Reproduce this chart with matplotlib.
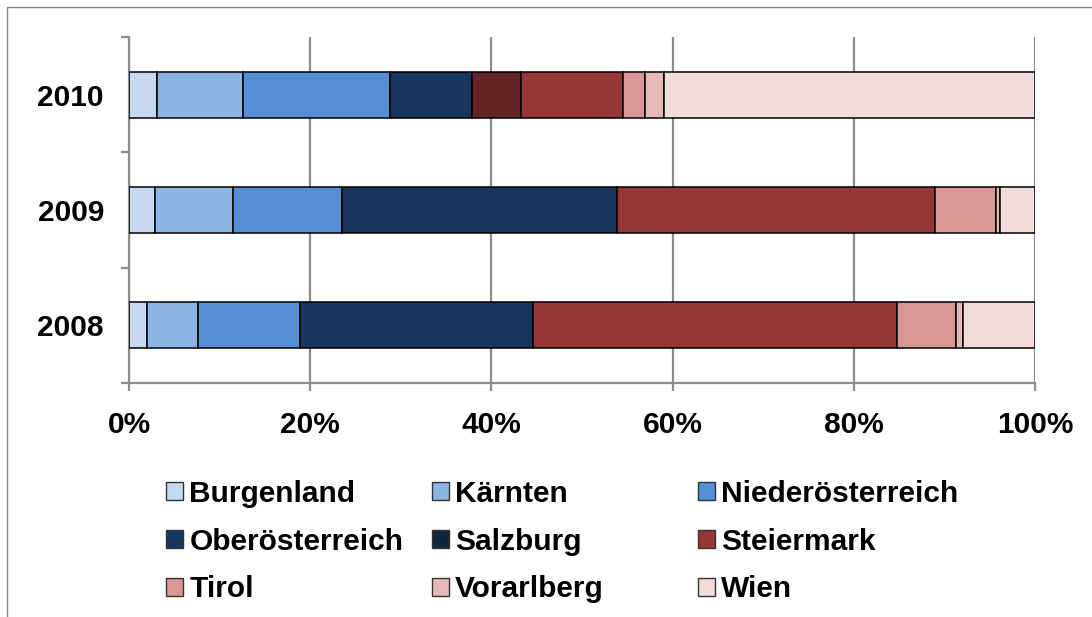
import numpy as np
import matplotlib
matplotlib.use("Agg")
import matplotlib.pyplot as plt
from matplotlib.patches import Patch, Rectangle

plt.rcParams['font.family'] = ['Liberation Sans', 'DejaVu Sans']
plt.rcParams['font.weight'] = 'bold'

jahre = ['2008', '2009', '2010']
laender = ['Burgenland', 'Kärnten', 'Niederösterreich', 'Oberösterreich', 'Salzburg',
           'Steiermark', 'Tirol', 'Vorarlberg', 'Wien']
farben = ['#C6D9F1', '#8DB4E2', '#558ED5', '#17375E', '#10253F',
          '#953735', '#D99694', '#E6B9B8', '#F2DCDB']

# Anteile in Prozent je Bundesland, Reihenfolge wie jahre
burgenland = [2.0, 2.9, 3.1]
kaernten = [5.6, 8.6, 9.5]
niederoe = [11.3, 12.0, 16.2]
oberoe = [25.7, 30.4, 9.1]
salzburg = [0.0, 0.0, 5.4]
steiermark = [40.2, 35.1, 11.2]
tirol = [6.5, 6.7, 2.5]
vorarlberg = [0.7, 0.4, 2.1]
wien = [8.0, 3.9, 40.9]

werte = np.array([burgenland, kaernten, niederoe, oberoe, salzburg,
                  steiermark, tirol, vorarlberg, wien])
werte = werte / werte.sum(axis=0) * 100

SCHRIFT = 21.5


def main():
    fig = plt.figure(figsize=(10.92, 6.17), dpi=100)
    ax = fig.add_axes([129/1092, 1 - 383/617, (1035 - 129)/1092, (383 - 37)/617])

    y = np.arange(len(jahre))
    links = np.zeros(len(jahre))
    balken = []
    for i in range(len(laender)):
        b = ax.barh(y, werte[i], left=links, height=0.4, color=farben[i],
                    edgecolor='black', linewidth=1.1, zorder=3)
        balken.append(b)
        links += werte[i]

    # Salzburg 2010 ist im Original dunkelrot eingefaerbt
    balken[4].patches[2].set_facecolor('#632523')

    ax.set_xlim(0, 100)
    ax.set_ylim(-0.5, 2.5)
    ax.set_xticks(np.arange(0, 101, 20))
    ax.set_xticklabels([f'{v}%' for v in range(0, 101, 20)], fontsize=SCHRIFT, fontweight='bold')
    ax.set_yticks(y)
    ax.set_yticklabels(jahre, fontsize=SCHRIFT, fontweight='bold')
    ax.set_yticks([-0.5, 0.5, 1.5, 2.5], minor=True)

    grau = '#8C8C8C'
    ax.xaxis.grid(True, color=grau, linewidth=1.6, zorder=0)
    ax.set_axisbelow(True)
    for s in ['top', 'right']:
        ax.spines[s].set_visible(False)
    for s in ['left', 'bottom']:
        ax.spines[s].set_color(grau)
        ax.spines[s].set_linewidth(1.6)
    ax.tick_params(axis='y', which='major', length=0, pad=18)
    ax.tick_params(axis='y', which='minor', length=6, width=1.6, color=grau)
    ax.tick_params(axis='x', length=6, width=1.6, color=grau, pad=14)

    griffe = [Patch(facecolor=farben[i], edgecolor='#333333', linewidth=1.0) for i in range(len(laender))]
    spalten_x = [166/1092, 432/1092, 698/1092]
    for k in range(3):
        fig.legend(griffe[k::3], laender[k::3], loc='upper left',
                   bbox_to_anchor=(spalten_x[k], 1 - 480/617),
                   frameon=False, ncol=1, prop={'size': SCHRIFT, 'weight': 'bold'},
                   handlelength=0.58, handleheight=0.55, handletextpad=0.2,
                   labelspacing=0.66, borderpad=0, borderaxespad=0)

    # Rahmen des Diagrammbereichs
    fig.patches.append(Rectangle((7/1092, -0.1), 1.2, 1 - 7/617 + 0.1, transform=fig.transFigure,
                                 fill=False, edgecolor='#868686', linewidth=1.0))

    fig.savefig('out.png', dpi=100)


if __name__ == '__main__':
    main()
